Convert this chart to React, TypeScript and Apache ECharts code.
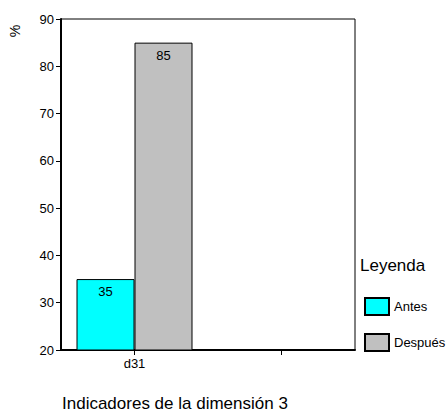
import React, { useEffect, useRef } from "react";
import * as echarts from "echarts";

const categories = ["d31", ""];
const antes = [35, null];
const despues = [85, null];
const yTicks = { min: 20, max: 90, interval: 10 };

export default function App() {
  const ref = useRef<HTMLDivElement>(null);
  useEffect(() => {
    const chart = echarts.init(ref.current!, null, { renderer: "svg" });
    const font = "Liberation Sans, Arial, sans-serif";
    chart.setOption({
      animation: false,
      textStyle: { fontFamily: font },
      grid: {
        left: 61,
        top: 19,
        width: 294,
        height: 331,
        show: true,
        borderColor: "#000",
        borderWidth: 1,
        backgroundColor: "transparent",
      },
      xAxis: {
        type: "category",
        data: categories,
        boundaryGap: true,
        axisLine: { lineStyle: { color: "#000", width: 2 } },
        axisTick: { show: true, interval: 0, alignWithLabel: true, length: 5, lineStyle: { color: "#000", width: 1 } },
        axisLabel: { color: "#000", fontSize: 13, fontFamily: font, margin: 7, interval: 0 },
      },
      yAxis: {
        type: "value",
        min: yTicks.min,
        max: yTicks.max,
        interval: yTicks.interval,
        axisLine: { show: true, lineStyle: { color: "#000", width: 2 } },
        axisTick: { show: true, length: 5, lineStyle: { color: "#000", width: 1 } },
        axisLabel: { color: "#000", fontSize: 13, fontFamily: font, margin: 7 },
        splitLine: { show: false },
      },
      legend: {
        orient: "vertical",
        left: 364,
        top: 297,
        padding: 0,
        itemWidth: 24,
        itemHeight: 17,
        itemGap: 17,
        icon: "rect",
        textStyle: { color: "#000", fontSize: 13, fontFamily: font },
        data: ["Antes", "Después"],
      },
      graphic: [
        {
          type: "text",
          left: 360,
          top: 257,
          style: { text: "Leyenda", fontSize: 17, fill: "#000", fontFamily: font },
        },
        {
          type: "text",
          left: 62,
          top: 395,
          style: { text: "Indicadores de la dimensión 3", fontSize: 17, fill: "#000", fontFamily: font },
        },
        {
          type: "text",
          x: 15,
          y: 31,
          rotation: Math.PI / 2,
          style: {
            text: "%",
            fontSize: 14,
            fill: "#000",
            fontFamily: font,
            align: "center",
            verticalAlign: "middle",
          },
        },
      ],
      series: [
        {
          name: "Antes",
          type: "bar",
          data: antes,
          barWidth: 58,
          barGap: "0%",
          itemStyle: { color: "#00FFFF", borderColor: "#000", borderWidth: 1 },
          label: { show: true, position: "insideTop", distance: 6, color: "#000", fontSize: 13, fontFamily: font },
        },
        {
          name: "Después",
          type: "bar",
          data: despues,
          barWidth: 58,
          barGap: "0%",
          itemStyle: { color: "#C0C0C0", borderColor: "#000", borderWidth: 1 },
          label: { show: true, position: "insideTop", distance: 6, color: "#000", fontSize: 13, fontFamily: font },
        },
      ],
    });
    return () => chart.dispose();
  }, []);
  return (
    <div
      ref={ref}
      style={{ position: "absolute", left: 0, top: 0, width: 446, height: 412, background: "#fff" }}
    />
  );
}
